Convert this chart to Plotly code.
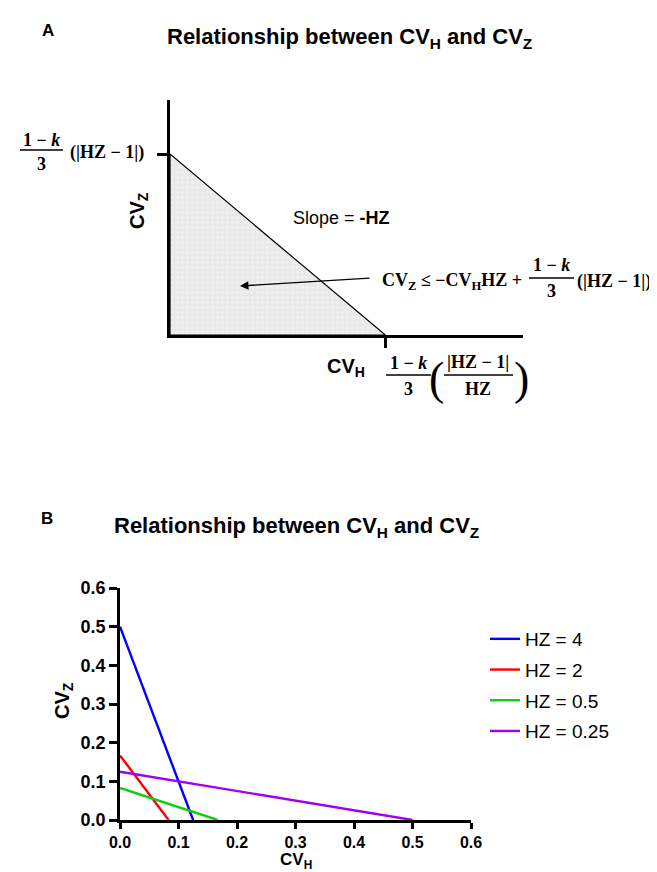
import plotly.graph_objects as go

# Datos panel B: rectas CV_Z = -HZ*CV_H + (1-k)/3*|HZ-1|
hz_labels = ["HZ = 4", "HZ = 2", "HZ = 0.5", "HZ = 0.25"]
hz_colors = ["#0000ff", "#ff0000", "#11cc11", "#a000f0"]
cvz_intercepts = [0.5, 0.167, 0.083, 0.125]
cvh_intercepts = [0.125, 0.083, 0.167, 0.5]
axis_ticks = [0.0, 0.1, 0.2, 0.3, 0.4, 0.5, 0.6]

# Esquema panel A (ejes sin escala, 0-1)
diagram_cvh_intercept = 0.61
diagram_cvz_intercept = 0.77

W, H = 657, 872
SANS = "Liberation Sans, Arial"
SERIF = "Liberation Serif, Times New Roman"


def px(x):
    return x / W


def py(y):
    return 1 - y / H


fig = go.Figure()

# Panel A: triangulo sombreado
fig.add_trace(go.Scatter(
    x=[0, 0, diagram_cvh_intercept, 0],
    y=[0, diagram_cvz_intercept, 0, 0],
    mode="lines", fill="toself",
    fillcolor="#ebebeb",
    fillpattern=dict(shape=".", bgcolor="#e9e9e9", fgcolor="#f8f8f8", size=5, solidity=0.25),
    line=dict(color="black", width=1.2),
    xaxis="x2", yaxis="y2", showlegend=False, hoverinfo="skip"))

# Panel B: lineas
for lab, col, yi, xi in zip(hz_labels, hz_colors, cvz_intercepts, cvh_intercepts):
    fig.add_trace(go.Scatter(
        x=[0, xi], y=[yi, 0], mode="lines", name=lab,
        line=dict(color=col, width=2.4), legendgroup=lab))

ax_common = dict(showline=True, linecolor="black", linewidth=2.6, showgrid=False,
                 zeroline=False, ticks="outside", tickcolor="black", tickwidth=2.6,
                 automargin=False, fixedrange=True)

fig.update_layout(
    width=W, height=H, autosize=False,
    margin=dict(l=0, r=0, t=0, b=0),
    paper_bgcolor="white", plot_bgcolor="white",
    xaxis=dict(domain=[px(112), px(463)], range=[0, 0.6], tickvals=axis_ticks,
               tickformat=".1f", ticklen=6, anchor="y",
               tickfont=dict(family=SANS, size=16, weight="bold", color="black"), **ax_common),
    yaxis=dict(domain=[py(812), py(580)], range=[0, 0.6], tickvals=axis_ticks,
               tickformat=".1f", ticklen=8, anchor="x",
               tickfont=dict(family=SANS, size=18, weight="bold", color="black"), **ax_common),
    xaxis2=dict(domain=[px(162), px(515)], range=[0, 1], tickvals=[diagram_cvh_intercept],
                showticklabels=False, ticklen=10, anchor="y2", **ax_common),
    yaxis2=dict(domain=[py(327), py(92)], range=[0, 1], tickvals=[diagram_cvz_intercept],
                showticklabels=False, ticklen=10, anchor="x2", **ax_common),
    legend=dict(x=px(477), y=py(612), xanchor="left", yanchor="top",
                font=dict(family=SANS, size=19, color="black"),
                tracegroupgap=3, bgcolor="rgba(0,0,0,0)"),
    showlegend=True,
)

ann = []


def text(x, y, t, size=18, family=SANS, xanchor="center", yanchor="middle", **kw):
    ann.append(dict(x=px(x), y=py(y), xref="paper", yref="paper", text=t, showarrow=False,
                    xanchor=xanchor, yanchor=yanchor,
                    font=dict(family=family, size=size, color="black"), **kw))


def frac_bar(x0, x1, y):
    fig.add_shape(type="line", xref="paper", yref="paper",
                  x0=px(x0), x1=px(x1), y0=py(y), y1=py(y),
                  line=dict(color="black", width=1.4))


title = "<b>Relationship between CV<sub>H</sub> and CV<sub>Z</sub></b>"
text(40, 22, "<b>A</b>", size=17)
text(341, 30, title, size=22)
text(39, 511, "<b>B</b>", size=17)
text(288, 519, title, size=22)

# Panel A: etiquetas
frac = "<b>1 − <i>k</i></b>"
text(33, 132, frac, size=18, family=SERIF)
frac_bar(12, 55, 142)
text(33, 156, "<b>3</b>", size=18, family=SERIF)
text(60, 144, "<b>(|HZ − 1|)</b>", size=18, family=SERIF, xanchor="left")

text(131, 203, "<b>CV<sub>Z</sub></b>", size=20, textangle=-90)
text(283, 210, "Slope = <b>-HZ</b>", size=18, xanchor="left")

text(372, 273, "<b>CV<sub>Z</sub> ≤ −CV<sub>H</sub>HZ +</b>", size=18, family=SERIF, xanchor="left")
text(543, 257, frac, size=18, family=SERIF)
frac_bar(521, 566, 270)
text(543, 283, "<b>3</b>", size=18, family=SERIF)
text(567, 273, "<b>(|HZ − 1|)</b>", size=18, family=SERIF, xanchor="left")

text(338, 359, "<b>CV<sub>H</sub></b>", size=20)
text(400, 355, frac, size=18, family=SERIF)
frac_bar(378, 423, 367)
text(400, 381, "<b>3</b>", size=18, family=SERIF)
text(428, 370, "(", size=46, family=SERIF)
text(513, 370, ")", size=46, family=SERIF)
text(470, 354, "<b>|HZ − 1|</b>", size=18, family=SERIF)
frac_bar(436, 505, 367)
text(470, 381, "<b>HZ</b>", size=18, family=SERIF)

# flecha hacia la region
ann.append(dict(x=px(232), y=py(278), xref="paper", yref="paper", text="",
                showarrow=True, ax=131, ay=-8, axref="pixel", ayref="pixel",
                arrowhead=2, arrowsize=1.3, arrowwidth=1.3, arrowcolor="black"))

# Panel B: titulos de ejes
text(55, 693, "<b>CV<sub>Z</sub></b>", size=20, textangle=-90)
text(288, 865, "<b>CV<sub>H</sub></b>", size=17, yanchor="bottom", borderpad=0)

fig.update_layout(annotations=ann)
fig.write_html("out.html")
